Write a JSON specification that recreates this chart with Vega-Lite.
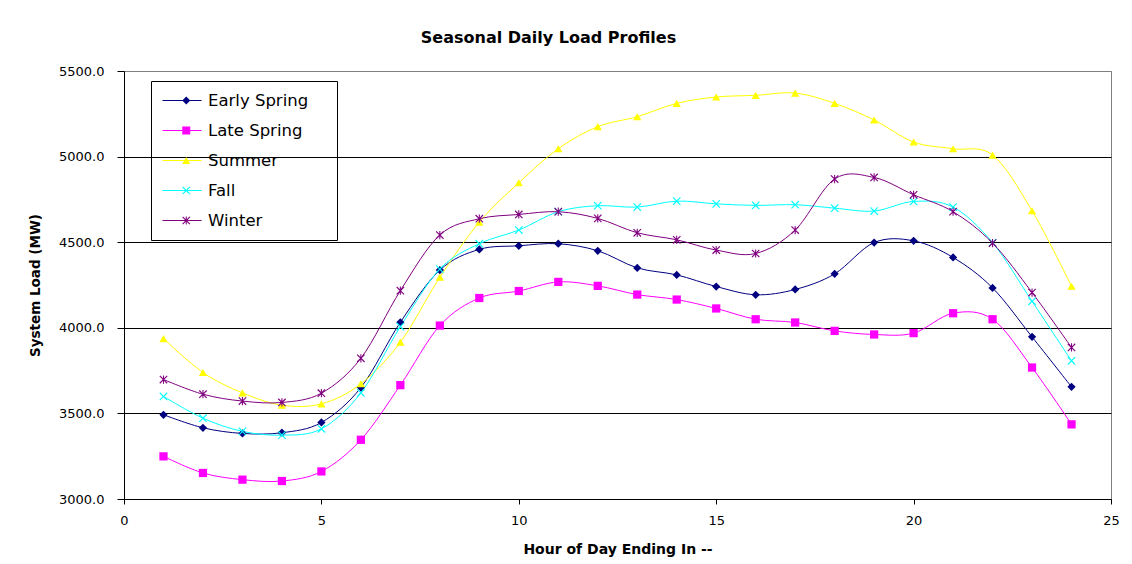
{
  "$schema": "https://vega.github.io/schema/vega-lite/v6.json",
  "width": 987,
  "height": 428,
  "autosize": {"type": "none"},
  "padding": {"left": 124, "top": 71, "right": 21, "bottom": 65},
  "background": "white",
  "title": {"text": "Seasonal Daily Load Profiles", "font": "DejaVu Sans", "fontSize": 16, "fontWeight": "bold", "color": "black", "anchor": "middle", "dx": -69, "offset": 19},
  "datasets": {
    "loads": [
      {"hour":1,"season":"Early Spring","load":3492},{"hour":2,"season":"Early Spring","load":3416},{"hour":3,"season":"Early Spring","load":3383},{"hour":4,"season":"Early Spring","load":3387},{"hour":5,"season":"Early Spring","load":3447},{"hour":6,"season":"Early Spring","load":3651},{"hour":7,"season":"Early Spring","load":4032},{"hour":8,"season":"Early Spring","load":4337},{"hour":9,"season":"Early Spring","load":4458},{"hour":10,"season":"Early Spring","load":4479},{"hour":11,"season":"Early Spring","load":4491},{"hour":12,"season":"Early Spring","load":4450},{"hour":13,"season":"Early Spring","load":4350},{"hour":14,"season":"Early Spring","load":4309},{"hour":15,"season":"Early Spring","load":4241},{"hour":16,"season":"Early Spring","load":4193},{"hour":17,"season":"Early Spring","load":4224},{"hour":18,"season":"Early Spring","load":4315},{"hour":19,"season":"Early Spring","load":4498},{"hour":20,"season":"Early Spring","load":4508},{"hour":21,"season":"Early Spring","load":4411},{"hour":22,"season":"Early Spring","load":4233},{"hour":23,"season":"Early Spring","load":3947},{"hour":24,"season":"Early Spring","load":3655},
      {"hour":1,"season":"Late Spring","load":3249},{"hour":2,"season":"Late Spring","load":3152},{"hour":3,"season":"Late Spring","load":3113},{"hour":4,"season":"Late Spring","load":3105},{"hour":5,"season":"Late Spring","load":3161},{"hour":6,"season":"Late Spring","load":3346},{"hour":7,"season":"Late Spring","load":3665},{"hour":8,"season":"Late Spring","load":4013},{"hour":9,"season":"Late Spring","load":4174},{"hour":10,"season":"Late Spring","load":4215},{"hour":11,"season":"Late Spring","load":4268},{"hour":12,"season":"Late Spring","load":4245},{"hour":13,"season":"Late Spring","load":4194},{"hour":14,"season":"Late Spring","load":4165},{"hour":15,"season":"Late Spring","load":4113},{"hour":16,"season":"Late Spring","load":4050},{"hour":17,"season":"Late Spring","load":4031},{"hour":18,"season":"Late Spring","load":3982},{"hour":19,"season":"Late Spring","load":3961},{"hour":20,"season":"Late Spring","load":3969},{"hour":21,"season":"Late Spring","load":4085},{"hour":22,"season":"Late Spring","load":4050},{"hour":23,"season":"Late Spring","load":3768},{"hour":24,"season":"Late Spring","load":3436},
      {"hour":1,"season":"Summer","load":3937},{"hour":2,"season":"Summer","load":3739},{"hour":3,"season":"Summer","load":3620},{"hour":4,"season":"Summer","load":3548},{"hour":5,"season":"Summer","load":3556},{"hour":6,"season":"Summer","load":3673},{"hour":7,"season":"Summer","load":3916},{"hour":8,"season":"Summer","load":4295},{"hour":9,"season":"Summer","load":4617},{"hour":10,"season":"Summer","load":4847},{"hour":11,"season":"Summer","load":5046},{"hour":12,"season":"Summer","load":5175},{"hour":13,"season":"Summer","load":5233},{"hour":14,"season":"Summer","load":5311},{"hour":15,"season":"Summer","load":5348},{"hour":16,"season":"Summer","load":5358},{"hour":17,"season":"Summer","load":5371},{"hour":18,"season":"Summer","load":5311},{"hour":19,"season":"Summer","load":5214},{"hour":20,"season":"Summer","load":5085},{"hour":21,"season":"Summer","load":5046},{"hour":22,"season":"Summer","load":5009},{"hour":23,"season":"Summer","load":4684},{"hour":24,"season":"Summer","load":4243},
      {"hour":1,"season":"Fall","load":3599},{"hour":2,"season":"Fall","load":3472},{"hour":3,"season":"Fall","load":3395},{"hour":4,"season":"Fall","load":3373},{"hour":5,"season":"Fall","load":3410},{"hour":6,"season":"Fall","load":3620},{"hour":7,"season":"Fall","load":4007},{"hour":8,"season":"Fall","load":4343},{"hour":9,"season":"Fall","load":4491},{"hour":10,"season":"Fall","load":4571},{"hour":11,"season":"Fall","load":4678},{"hour":12,"season":"Fall","load":4713},{"hour":13,"season":"Fall","load":4705},{"hour":14,"season":"Fall","load":4740},{"hour":15,"season":"Fall","load":4724},{"hour":16,"season":"Fall","load":4715},{"hour":17,"season":"Fall","load":4719},{"hour":18,"season":"Fall","load":4699},{"hour":19,"season":"Fall","load":4682},{"hour":20,"season":"Fall","load":4738},{"hour":21,"season":"Fall","load":4705},{"hour":22,"season":"Fall","load":4497},{"hour":23,"season":"Fall","load":4155},{"hour":24,"season":"Fall","load":3807},
      {"hour":1,"season":"Winter","load":3698},{"hour":2,"season":"Winter","load":3612},{"hour":3,"season":"Winter","load":3572},{"hour":4,"season":"Winter","load":3564},{"hour":5,"season":"Winter","load":3618},{"hour":6,"season":"Winter","load":3822},{"hour":7,"season":"Winter","load":4217},{"hour":8,"season":"Winter","load":4542},{"hour":9,"season":"Winter","load":4637},{"hour":10,"season":"Winter","load":4662},{"hour":11,"season":"Winter","load":4678},{"hour":12,"season":"Winter","load":4639},{"hour":13,"season":"Winter","load":4555},{"hour":14,"season":"Winter","load":4514},{"hour":15,"season":"Winter","load":4454},{"hour":16,"season":"Winter","load":4434},{"hour":17,"season":"Winter","load":4571},{"hour":18,"season":"Winter","load":4869},{"hour":19,"season":"Winter","load":4878},{"hour":20,"season":"Winter","load":4777},{"hour":21,"season":"Winter","load":4678},{"hour":22,"season":"Winter","load":4495},{"hour":23,"season":"Winter","load":4206},{"hour":24,"season":"Winter","load":3885}
    ]
  },
  "data": {"name": "loads"},
  "encoding": {
    "x": {"field": "hour", "type": "quantitative", "scale": {"domain": [0, 25], "nice": false, "zero": false},
      "axis": {"values": [0, 5, 10, 15, 20, 25], "title": "Hour of Day Ending In --", "grid": false, "tickSize": 5, "labelPadding": 10, "titlePadding": 15, "labelFlush": false}},
    "y": {"field": "load", "type": "quantitative", "scale": {"domain": [3000, 5500], "nice": false, "zero": false},
      "axis": {"values": [3000, 3500, 4000, 4500, 5000, 5500], "format": ".1f", "title": "System Load (MW)", "grid": true, "tickSize": 7, "labelPadding": 13, "titlePadding": 16, "titleFontSize": 13.5,
        "gridColor": {"condition": {"test": "datum.value == 5500", "value": "#808080"}, "value": "#000000"}}}
  },
  "layer": [
    {
      "mark": {"type": "line", "interpolate": "cardinal", "strokeWidth": 1},
      "encoding": {
        "stroke": {"field": "season", "type": "nominal",
          "scale": {"domain": ["Early Spring", "Late Spring", "Summer", "Fall", "Winter"], "range": ["#000080", "#FF00FF", "#FFFF00", "#00FFFF", "#800080"]},
          "legend": {"orient": "none", "legendX": 27, "legendY": 10, "title": null, "padding": 11, "symbolType": "stroke", "symbolSize": 1521, "symbolStrokeWidth": 1, "labelOffset": 6, "labelFont": "DejaVu Sans", "labelFontSize": 16.5, "labelColor": "black", "rowPadding": 13, "clipHeight": 17, "labelLimit": 300}}
      }
    },
    {
      "mark": {"type": "point", "filled": true, "opacity": 1, "size": 68, "strokeWidth": 0},
      "encoding": {
        "color": {"field": "season", "type": "nominal",
          "scale": {"domain": ["Early Spring", "Late Spring", "Summer", "Fall", "Winter"], "range": ["#000080", "#FF00FF", "#FFFF00", "#00FFFF", "#800080"]},
          "legend": {"orient": "none", "legendX": 27, "legendY": 10, "title": null, "padding": 11, "strokeColor": "black", "symbolSize": 64, "symbolOffset": 16, "labelOffset": 131, "labelExpr": "''", "labelFont": "DejaVu Sans", "labelFontSize": 16.5, "rowPadding": 13, "clipHeight": 17, "labelLimit": 300, "symbolStrokeWidth": 0}},
        "shape": {"field": "season", "type": "nominal",
          "scale": {"domain": ["Early Spring", "Late Spring", "Summer", "Fall", "Winter"], "range": ["diamond", "square", "triangle-up", "M-1,-0.8L-0.8,-1L0,-0.2L0.8,-1L1,-0.8L0.2,0L1,0.8L0.8,1L0,0.2L-0.8,1L-1,0.8L-0.2,0Z", "M-1,-0.8L-0.8,-1L0,-0.2L0.8,-1L1,-0.8L0.2,0L1,0.8L0.8,1L0,0.2L-0.8,1L-1,0.8L-0.2,0ZM-0.13,-1L0.13,-1L0.13,1L-0.13,1Z"]},
          "legend": {"orient": "none", "legendX": 27, "legendY": 10, "title": null, "padding": 11, "strokeColor": "black", "symbolSize": 64, "symbolOffset": 16, "labelOffset": 131, "labelExpr": "''", "labelFont": "DejaVu Sans", "labelFontSize": 16.5, "rowPadding": 13, "clipHeight": 17, "labelLimit": 300, "symbolStrokeWidth": 0}}
      }
    }
  ],
  "resolve": {"legend": {"stroke": "independent"}},
  "config": {
    "view": {"stroke": "#808080", "strokeWidth": 1},
    "axis": {"domainColor": "#000000", "tickColor": "#000000", "gridOpacity": 1, "gridWidth": 1, "labelFont": "DejaVu Sans", "labelFontSize": 13, "labelColor": "#000000", "titleFont": "DejaVu Sans", "titleFontSize": 14, "titleFontWeight": "bold", "titleColor": "#000000", "domainWidth": 1, "tickWidth": 1}
  }
}
